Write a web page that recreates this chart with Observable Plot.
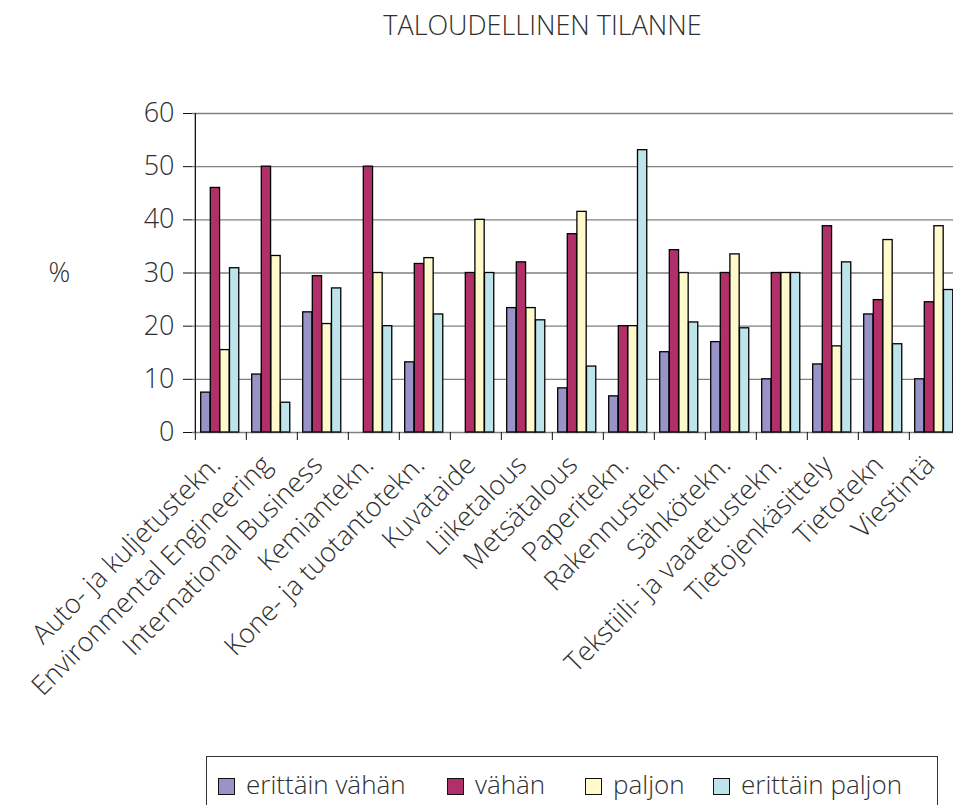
<!DOCTYPE html>
<html>
<head>
<meta charset="utf-8">
<script src="https://cdn.jsdelivr.net/npm/d3@7"></script>
<script src="https://cdn.jsdelivr.net/npm/@observablehq/plot@0.6"></script>
<style>
  body { margin: 0; background: #fff; }
  #wrap { position: relative; width: 953px; height: 805px; overflow: hidden; background: #fff;
          font-family: "Open Sans", sans-serif; font-weight: 300; color: #2e2e2e; }
  #title { position: absolute; left: 0; top: 11px; width: 1085px; text-align: center;
           font-size: 27px; line-height: 1; white-space: nowrap; }
  #chart { position: absolute; left: 0; top: 0; }
  #legend { position: absolute; left: 206px; top: 756px; width: 732px; height: 80px;
            border: 1.5px solid #333; box-sizing: border-box; font-size: 26px; line-height: 1; white-space: nowrap; }
  .item { position: absolute; top: 14px; display: flex; align-items: center; }
  .sw { width: 17px; height: 17px; border: 1.5px solid #111; box-sizing: border-box; margin-right: 11px; margin-top: 4px; }
</style>
</head>
<body>
<div id="wrap">
  <div id="title">TALOUDELLINEN TILANNE</div>
  <div id="chart"></div>
  <div id="legend"></div>
</div>
<script>
// ---- data ----
const categories = [
  "Auto- ja kuljetustekn.", "Environmental Engineering", "International Business",
  "Kemiantekn.", "Kone- ja tuotantotekn.", "Kuvataide", "Liiketalous", "Metsätalous",
  "Paperitekn.", "Rakennustekn.", "Sähkötekn.", "Tekstiili- ja vaatetustekn.",
  "Tietojenkäsittely", "Tietotekn", "Viestintä"
];
const seriesNames = ["erittäin vähän", "vähän", "paljon", "erittäin paljon"];
const erittainVahan  = [7.5, 10.9, 22.6, 0, 13.2, 0, 23.4, 8.3, 6.8, 15.1, 17.0, 10.0, 12.8, 22.2, 10.0];
const vahan          = [46.0, 50.0, 29.4, 50.0, 31.7, 30.0, 32.0, 37.3, 20.0, 34.3, 30.0, 30.0, 38.8, 24.9, 24.5];
const paljon         = [15.5, 33.2, 20.4, 30.0, 32.8, 40.0, 23.4, 41.5, 20.0, 30.0, 33.5, 30.0, 16.2, 36.2, 38.8];
const erittainPaljon = [30.9, 5.6, 27.1, 20.0, 22.2, 30.0, 21.1, 12.4, 53.1, 20.7, 19.6, 30.0, 32.0, 16.6, 26.8];
const yTicks = [0, 10, 20, 30, 40, 50, 60];
const colors = ["#9894C8", "#B2306A", "#FFF9CC", "#BEE4EB"];

const seriesValues = [erittainVahan, vahan, paljon, erittainPaljon];
const rows = seriesNames.map((s, si) =>
  categories.map((c, ci) => ({category: c, series: s, value: seriesValues[si][ci]})));

// ---- layout ----
const W = 962, H = 805, mL = 192, mR = 0, mT = 113, mB = 373;
const bw = (W - mL - mR) / categories.length;
const barOffset = 5.7, barW = 9.6;
const legendLeft = [11, 240, 378, 506]; // item offsets inside the legend box

const barMarks = rows.map((data, i) => Plot.barY(data, {
  x: "category", y: "value", filter: d => d.value > 0,
  fill: colors[i], stroke: "#000", strokeWidth: 1.3,
  insetLeft: barOffset + i * barW,
  insetRight: bw - (barOffset + (i + 1) * barW)
}));

const chart = Plot.plot({
  width: W, height: H,
  marginLeft: mL, marginRight: mR, marginTop: mT, marginBottom: mB,
  style: {maxWidth: "none", background: "transparent", fontFamily: "Open Sans, sans-serif",
          fontWeight: 300, fontSize: "27px", color: "#2e2e2e", overflow: "visible"},
  x: {domain: categories, padding: 0},
  y: {domain: [0, 60]},
  marks: [
    Plot.gridY(yTicks, {stroke: "#808080", strokeOpacity: 1, strokeWidth: 1.3}),
    Plot.axisY(yTicks, {tickSize: 9, tickPadding: 9, fontSize: 27, label: null, stroke: "#111"}),
    ...barMarks,
    Plot.ruleX([categories[0]], {x: d => d, y1: 0, y2: 60, dx: -bw / 2, stroke: "#111", strokeWidth: 1.3}),
    Plot.axisX({tickSize: 8, tickFormat: () => "", dx: -bw / 2, stroke: "#111", label: null}),
    Plot.axisX({tickSize: 0, tickPadding: 28, tickRotate: -45, dx: -5, fontSize: 27, label: null}),
    Plot.text(["%"], {frameAnchor: "left", dx: -144, fontSize: 27})
  ]
});
document.getElementById("chart").appendChild(chart);

// ---- legend ----
const legend = document.getElementById("legend");
seriesNames.forEach((s, i) => {
  const it = document.createElement("div");
  it.className = "item";
  it.style.left = legendLeft[i] + "px";
  const sw = document.createElement("span");
  sw.className = "sw";
  sw.style.background = colors[i];
  const tx = document.createElement("span");
  tx.textContent = s;
  it.appendChild(sw); it.appendChild(tx);
  legend.appendChild(it);
});
</script>
</body>
</html>
